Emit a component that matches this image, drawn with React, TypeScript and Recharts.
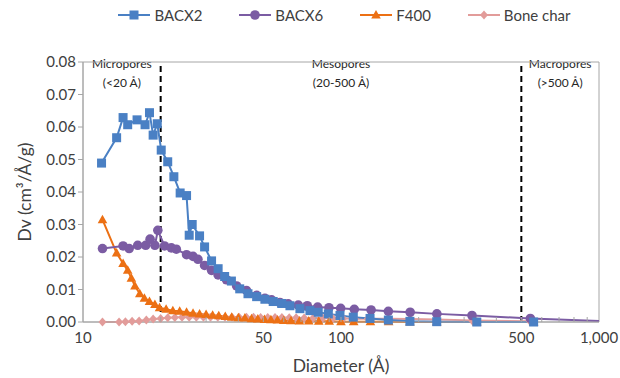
import React from "react";
import {
  LineChart,
  Line,
  XAxis,
  YAxis,
  Legend,
  ReferenceLine,
  ReferenceArea,
  Label,
} from "recharts";

const bacx2X = [11.8, 13.5, 14.3, 14.9, 16.2, 17.4, 18.1, 18.7, 19.4, 20.1, 21.3, 22.5, 23.8, 25.2, 25.8, 26.5, 28.3, 29.6, 31.5, 33.4, 35.4, 37.6, 40.5, 43.6, 47.1, 50.7, 54.6, 58.9, 63.4, 69.3, 75.8, 81.6, 89.3, 99.1, 111.6, 129.6, 152.6, 185, 235, 336, 558];
const bacx2Y = [0.0489, 0.0567, 0.0629, 0.0607, 0.0622, 0.0607, 0.0644, 0.0575, 0.061, 0.0529, 0.0493, 0.0447, 0.0397, 0.0389, 0.0267, 0.03, 0.0265, 0.0231, 0.0188, 0.0164, 0.014, 0.0126, 0.0102, 0.0087, 0.0078, 0.007, 0.0063, 0.0057, 0.005, 0.0041, 0.0035, 0.003, 0.0025, 0.002, 0.0015, 0.0011, 0.0006, 0.0002, 0.0001, 0.0, 0.0];

const bacx6X = [11.9, 14.3, 15.1, 16.3, 17.5, 18.2, 19.0, 19.5, 20.7, 22.0, 23.0, 25.2, 26.7, 27.9, 29.6, 31.5, 33.4, 36.0, 39.4, 43.0, 47.1, 50.7, 53.8, 58.0, 62.4, 68.3, 74.0, 81.2, 89.8, 99.7, 112.6, 130.8, 152.6, 185.4, 235.3, 321.9, 542, 1000];
const bacx6Y = [0.0226, 0.0234, 0.0226, 0.0236, 0.0236, 0.0255, 0.0236, 0.0282, 0.0234, 0.0228, 0.0224, 0.0207, 0.0202, 0.0193, 0.0174, 0.0159, 0.0145, 0.013, 0.0111, 0.0097, 0.0082, 0.0073, 0.0068, 0.006, 0.0056, 0.0052, 0.005, 0.0046, 0.0044, 0.0042, 0.0039, 0.0037, 0.0033, 0.003, 0.0025, 0.002, 0.0011, 0.0003];

const f400X = [11.9, 13.5, 14.3, 14.9, 15.4, 15.9, 16.6, 17.3, 18.1, 19.0, 19.8, 21.0, 22.3, 23.7, 25.2, 26.7, 28.3, 30.0, 31.8, 33.6, 35.6, 37.7, 40.0, 42.4, 45.0, 47.6, 50.5, 53.5, 56.7, 60.0, 64.0, 69.0, 75.0, 82.0, 90.0, 100, 112, 130, 153, 185, 235, 336, 558];
const f400Y = [0.0315, 0.0212, 0.018, 0.0159, 0.0135, 0.0111, 0.0087, 0.0073, 0.0063, 0.0054, 0.0044, 0.0039, 0.0035, 0.0033, 0.003, 0.0027, 0.0025, 0.0023, 0.0021, 0.0019, 0.0017, 0.0015, 0.0013, 0.0012, 0.001, 0.0009, 0.0008, 0.0007, 0.0006, 0.0005, 0.0004, 0.0003, 0.0003, 0.0002, 0.0002, 0.0001, 0.0001, 0.0001, 0.0001, 0.0, 0.0, 0.0, 0.0];

const boneX = [11.9, 13.8, 14.6, 15.5, 16.5, 17.6, 18.7, 20.0, 21.3, 22.7, 24.2, 25.8, 27.5, 29.3, 31.2, 33.3, 35.5, 37.8, 40.3, 43.0, 45.8, 48.8, 52.0, 55.5, 59.0, 63.0, 67.0, 72.0, 78.0, 85.0, 93.0, 102, 113, 127, 152, 185, 235, 322, 540];
const boneY = [0.0, 0.0, 0.0001, 0.0002, 0.0003, 0.0006, 0.0009, 0.0011, 0.0013, 0.0014, 0.0015, 0.0015, 0.0015, 0.0015, 0.0015, 0.0015, 0.0015, 0.0015, 0.0015, 0.0015, 0.0015, 0.0014, 0.0014, 0.0014, 0.0014, 0.0013, 0.0013, 0.0012, 0.0012, 0.0012, 0.0011, 0.0011, 0.001, 0.001, 0.001, 0.0009, 0.0008, 0.0005, 0.0002];

const xTicks = [10, 20, 30, 40, 50, 60, 70, 80, 90, 100, 200, 300, 400, 500, 600, 700, 800, 900, 1000];
const xLabels: Record<number, string> = { 10: "10", 50: "50", 100: "100", 500: "500", 1000: "1,000" };
const yTicks = [0, 0.01, 0.02, 0.03, 0.04, 0.05, 0.06, 0.07, 0.08];

const zip = (xs: number[], ys: number[]) => xs.map((x, i) => ({ x, y: ys[i] }));

const FONT = "Lato, 'Open Sans', sans-serif";
const TEXT = "#404040";
const AXIS = "#a6a6a6";

const series = [
  { name: "BACX2", color: "#4a80c4", shape: "square", data: zip(bacx2X, bacx2Y) },
  { name: "BACX6", color: "#7b5ca3", shape: "circle", data: zip(bacx6X, bacx6Y) },
  { name: "F400", color: "#ec7014", shape: "triangle", data: zip(f400X, f400Y) },
  { name: "Bone char", color: "#e29c9a", shape: "diamond", data: zip(boneX, boneY) },
];

function marker(shape: string, cx: number, cy: number, color: string, key?: any) {
  if (shape === "square") return <rect key={key} x={cx - 4.5} y={cy - 4.5} width={9} height={9} fill={color} />;
  if (shape === "circle") return <circle key={key} cx={cx} cy={cy} r={4.8} fill={color} />;
  if (shape === "triangle")
    return <path key={key} d={`M${cx},${cy - 5} L${cx + 4.8},${cy + 3.5} L${cx - 4.8},${cy + 3.5} Z`} fill={color} />;
  return <path key={key} d={`M${cx},${cy - 4.5} L${cx + 4},${cy} L${cx},${cy + 4.5} L${cx - 4},${cy} Z`} fill={color} />;
}

const XTick = (props: any) => {
  const { x, y, payload } = props;
  const v = payload.value;
  const label = xLabels[v];
  return (
    <g>
      {v !== 10 && v !== 1000 && <line x1={x} x2={x} y1={y - 5} y2={y} stroke={AXIS} />}
      {label && (
        <text x={x} y={y + 21} textAnchor="middle" fontSize={15} fill={TEXT} fontFamily={FONT}>
          {label}
        </text>
      )}
    </g>
  );
};

const renderLegend = () => (
  <div style={{ display: "flex", justifyContent: "center", gap: 36, paddingLeft: 68, fontFamily: FONT, fontSize: 15, color: TEXT }}>
    {series.map((s) => (
      <div key={s.name} style={{ display: "flex", alignItems: "center" }}>
        <svg width={34} height={12}>
          <line x1={1} x2={33} y1={6} y2={6} stroke={s.color} strokeWidth={2} />
          {marker(s.shape, 17, 6, s.color)}
        </svg>
        <span style={{ marginLeft: 3 }}>{s.name}</span>
      </div>
    ))}
  </div>
);

const regionLabel = (l1: string, l2: string) => (props: any) => {
  const { viewBox } = props;
  const cx = viewBox.x + viewBox.width / 2;
  return (
    <g fontFamily={FONT} fontSize={12} fill="#262626" textAnchor="middle">
      <text x={cx} y={viewBox.y + 6}>{l1}</text>
      <text x={cx} y={viewBox.y + 25}>{l2}</text>
    </g>
  );
};

export default function App() {
  return (
    <div style={{ position: "absolute", left: 0, top: 0, width: 620, height: 378, background: "#fff" }}>
      <LineChart width={620} height={378} margin={{ top: 44, right: 21, left: 0, bottom: 0 }}>
        <ReferenceArea x1={10} x2={20} y1={0} y2={0.08} fill="none" stroke="none" label={regionLabel("Micropores", "(<20 Å)")} />
        <ReferenceArea x1={20} x2={500} y1={0} y2={0.08} fill="none" stroke="none" label={regionLabel("Mesopores", "(20-500 Å)")} />
        <ReferenceArea x1={500} x2={1000} y1={0} y2={0.08} fill="none" stroke="none" label={regionLabel("Macropores", "(>500 Å)")} />
        <ReferenceArea x1={10} x2={1000} y1={0} y2={0.08} fill="none" stroke={AXIS} strokeWidth={1} />
        <XAxis
          dataKey="x"
          type="number"
          scale="log"
          domain={[10, 1000]}
          ticks={xTicks}
          interval={0}
          allowDataOverflow
          height={56}
          stroke={AXIS}
          tickLine={false}
          tickSize={0}
          tickMargin={0}
          tick={<XTick />}
        >
          <Label value="Diameter (Å)" position="insideBottom" offset={6} style={{ fontFamily: FONT, fontSize: 17.5, fill: TEXT }} />
        </XAxis>
        <YAxis
          type="number"
          domain={[0, 0.08]}
          ticks={yTicks}
          width={83}
          stroke={AXIS}
          tickSize={5}
          tickFormatter={(v: number) => v.toFixed(2)}
          tick={{ fontFamily: FONT, fontSize: 15, fill: TEXT }}
        >
          <Label
            value="Dv (cm³/Å/g)"
            angle={-90}
            position="insideLeft"
            offset={25}
            style={{ fontFamily: FONT, fontSize: 17.5, fill: TEXT, textAnchor: "middle" }}
          />
        </YAxis>
        <ReferenceLine x={20} stroke="#000" strokeWidth={2} strokeDasharray="6 4" />
        <ReferenceLine x={500} stroke="#000" strokeWidth={2} strokeDasharray="6 4" />
        {series
          .slice()
          .reverse()
          .map((s) => (
            <Line
              key={s.name}
              name={s.name}
              data={s.data}
              dataKey="y"
              stroke={s.color}
              strokeWidth={2}
              isAnimationActive={false}
              dot={(p: any) =>
                p.payload.x >= 1000 ? <g key={p.index} /> : marker(s.shape, p.cx, p.cy, s.color, p.index)
              }
              activeDot={false}
            />
          ))}
        <Legend verticalAlign="top" content={renderLegend} wrapperStyle={{ top: 6, left: 0, width: 620 }} />
      </LineChart>
    </div>
  );
}
